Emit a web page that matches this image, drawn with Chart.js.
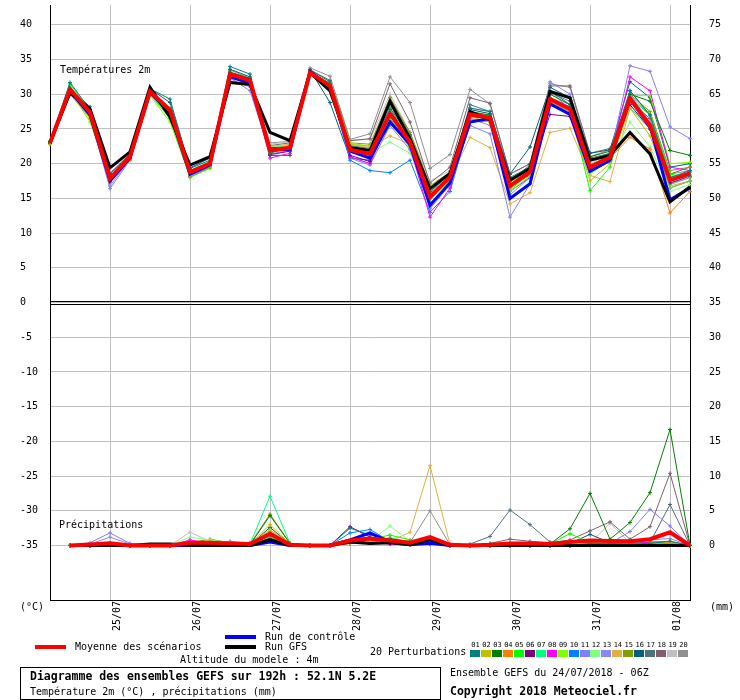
<!DOCTYPE html>
<html>
<head>
<meta charset="utf-8">
<script src="https://cdn.jsdelivr.net/npm/chart.js@4.4.1/dist/chart.umd.min.js"></script>
<style>
body { margin: 0; background: #fff; }
#wrap { position: relative; width: 740px; height: 700px; font-family: "DejaVu Sans Mono", monospace; font-size: 10px; color: #000; }
#wrap canvas { position: absolute; left: 0; top: 0; }
.t { position: absolute; white-space: pre; line-height: 12px; }
.b { font-weight: bold; font-size: 11.5px; }
.ln { position: absolute; width: 31px; height: 4px; }
.sw { position: absolute; top: 650px; width: 10px; height: 7px; }
.num { position: absolute; top: 641px; width: 11px; text-align: center; font-size: 7px; line-height: 8px; }
#box { position: absolute; left: 20px; top: 667px; width: 419px; height: 31px; border: 1px solid #000; }
</style>
</head>
<body>
<div id="wrap">
  <canvas id="gefs" width="740" height="640"></canvas>
  <div class="t" style="left:60px;top:64px">Températures 2m</div>
  <div class="t" style="left:59px;top:519px">Précipitations</div>
  <div class="t" style="left:20px;top:601px">(°C)</div>
  <div class="t" style="left:710px;top:601px">(mm)</div>

  <div class="ln" style="left:35px;top:645px;background:#ff0000"></div>
  <div class="t" style="left:75px;top:641px">Moyenne des scénarios</div>
  <div class="ln" style="left:225px;top:635px;background:#0000ff"></div>
  <div class="t" style="left:265px;top:631px">Run de contrôle</div>
  <div class="ln" style="left:225px;top:645px;background:#000"></div>
  <div class="t" style="left:265px;top:641px">Run GFS</div>
  <div class="t" style="left:180px;top:654px">Altitude du modele : 4m</div>
  <div class="t" style="left:370px;top:646px">20 Perturbations</div>
  <div id="swatches"></div>

  <div id="box"></div>
  <div class="t b" style="left:30px;top:670px">Diagramme des ensembles GEFS sur 192h : 52.1N 5.2E</div>
  <div class="t" style="left:30px;top:686px">Température 2m (°C) , précipitations (mm)</div>
  <div class="t" style="left:450px;top:667px">Ensemble GEFS du 24/07/2018 - 06Z</div>
  <div class="t b" style="left:450px;top:685px">Copyright 2018 Meteociel.fr</div>
</div>
<script>
// run 24/07/2018 06Z, 6-hourly steps up to 192h
var times = ['24/07 06Z','24/07 12Z','24/07 18Z','25/07 00Z','25/07 06Z','25/07 12Z','25/07 18Z',
  '26/07 00Z','26/07 06Z','26/07 12Z','26/07 18Z','27/07 00Z','27/07 06Z','27/07 12Z','27/07 18Z',
  '28/07 00Z','28/07 06Z','28/07 12Z','28/07 18Z','29/07 00Z','29/07 06Z','29/07 12Z','29/07 18Z',
  '30/07 00Z','30/07 06Z','30/07 12Z','30/07 18Z','31/07 00Z','31/07 06Z','31/07 12Z','31/07 18Z',
  '01/08 00Z','01/08 06Z'];
var tempTicks = [40, 35, 30, 25, 20, 15, 10, 5, 0, -5, -10, -15, -20, -25, -30, -35];
var precipTicks = [75, 70, 65, 60, 55, 50, 45, 40, 35, 30, 25, 20, 15, 10, 5, 0];

// temperature 2m (°C)
var tempMean = [23.0, 30.7, 27.4, 17.9, 21.0, 30.4, 27.7, 18.8, 20.0, 32.9, 32.0, 21.9, 22.3, 33.1, 31.2, 22.0, 21.4, 27.2, 23.1, 15.2, 18.1, 27.1, 26.6, 16.8, 18.8, 29.3, 27.9, 19.5, 20.9, 29.4, 25.5, 17.6, 18.6];
var tempGfs = [23.0, 30.2, 27.9, 19.4, 21.7, 31.0, 26.7, 19.8, 21.0, 31.7, 31.4, 24.5, 23.3, 33.1, 30.5, 22.3, 21.9, 29.0, 23.6, 16.4, 18.6, 27.5, 26.3, 17.6, 19.3, 30.4, 29.5, 20.5, 21.2, 24.5, 21.4, 14.5, 16.7];
var tempControl = [23.0, 30.5, 27.0, 17.5, 20.8, 30.3, 27.3, 18.5, 19.8, 32.5, 31.6, 22.1, 22.0, 33.3, 31.0, 21.8, 20.8, 26.0, 22.8, 14.0, 17.2, 26.0, 26.5, 15.0, 17.1, 28.6, 27.1, 18.9, 20.5, 29.5, 25.5, 14.8, 16.5];
var tempPert = [
  [23.2, 31.7, 27.8, 18.5, 21.3, 30.8, 29.3, 19.3, 20.5, 34.0, 32.9, 21.5, 22.5, 33.5, 31.8, 22.5, 22.0, 28.0, 24.0, 16.0, 18.5, 28.0, 27.5, 18.0, 19.5, 30.5, 28.5, 20.5, 21.5, 30.5, 27.0, 18.0, 19.0],
  [22.8, 30.0, 26.5, 17.6, 20.9, 30.2, 27.5, 18.6, 19.8, 32.5, 31.8, 22.0, 22.6, 33.0, 31.3, 22.8, 22.5, 28.5, 23.0, 16.5, 17.8, 26.8, 26.0, 16.0, 18.2, 29.0, 27.0, 17.5, 20.0, 28.0, 24.0, 16.5, 17.5],
  [23.0, 30.8, 27.2, 17.8, 21.1, 30.5, 27.9, 18.9, 20.2, 33.2, 32.3, 22.3, 22.4, 33.2, 31.5, 22.3, 22.0, 27.0, 22.8, 15.5, 18.0, 27.5, 27.0, 17.5, 19.8, 30.0, 28.5, 21.0, 21.8, 30.0, 29.0, 21.9, 21.2],
  [23.1, 30.4, 27.0, 17.3, 20.6, 30.0, 27.2, 18.3, 19.6, 32.6, 31.7, 22.2, 22.0, 33.4, 31.0, 21.8, 21.2, 29.0, 23.5, 15.8, 17.5, 26.5, 26.0, 16.5, 18.5, 29.0, 27.5, 19.0, 20.8, 23.8, 22.1, 12.9, 16.0],
  [23.3, 31.5, 27.6, 18.2, 21.2, 30.0, 26.5, 18.0, 19.4, 32.8, 31.5, 21.6, 22.6, 33.0, 31.4, 22.6, 21.0, 26.5, 22.5, 14.8, 17.5, 27.0, 26.8, 16.2, 18.6, 29.5, 28.0, 16.1, 19.5, 29.5, 27.0, 18.5, 18.0],
  [22.9, 30.6, 27.3, 17.5, 20.8, 30.3, 27.6, 18.7, 19.9, 32.6, 31.6, 21.3, 21.8, 33.1, 31.0, 21.2, 20.3, 26.2, 22.6, 14.2, 17.3, 26.8, 26.5, 16.6, 18.4, 27.1, 26.8, 19.2, 20.4, 28.5, 25.0, 17.2, 18.2],
  [23.0, 31.2, 27.5, 18.0, 21.0, 30.6, 28.0, 19.0, 20.1, 33.0, 32.1, 22.0, 22.2, 33.2, 31.3, 22.4, 21.6, 27.5, 23.2, 15.0, 18.2, 27.2, 26.7, 17.0, 19.0, 29.3, 28.0, 19.8, 21.0, 28.0, 25.0, 17.0, 18.4],
  [23.0, 30.6, 27.2, 17.8, 20.7, 30.4, 27.5, 18.2, 19.5, 32.8, 31.8, 20.8, 21.5, 33.0, 31.2, 21.0, 20.0, 26.5, 22.5, 12.3, 16.5, 26.8, 26.5, 16.6, 18.5, 29.5, 28.0, 19.0, 20.8, 32.5, 30.5, 19.5, 19.0],
  [23.2, 30.5, 26.0, 17.7, 20.5, 29.8, 26.0, 18.1, 19.3, 32.4, 31.7, 21.8, 22.5, 33.0, 31.6, 23.0, 22.5, 28.8, 23.8, 16.8, 18.4, 27.0, 26.8, 17.4, 18.8, 29.0, 27.5, 18.5, 20.5, 29.8, 29.8, 20.0, 20.2],
  [23.1, 30.7, 27.5, 17.4, 20.9, 30.5, 27.6, 18.6, 19.7, 32.7, 31.8, 22.0, 22.0, 33.3, 31.0, 20.5, 19.0, 18.7, 20.5, 13.0, 16.0, 26.0, 26.2, 16.0, 18.0, 28.8, 27.5, 18.8, 20.3, 29.0, 25.0, 16.5, 17.5],
  [22.8, 30.2, 26.8, 16.4, 20.5, 30.0, 27.3, 18.3, 19.6, 32.4, 30.5, 21.6, 22.1, 33.0, 30.8, 20.8, 19.8, 25.5, 22.0, 13.5, 17.0, 25.5, 24.3, 12.3, 17.1, 31.8, 30.0, 20.5, 21.0, 34.1, 33.3, 25.3, 23.6],
  [23.0, 30.9, 27.0, 17.6, 20.8, 30.1, 27.0, 18.4, 19.5, 32.8, 31.5, 22.4, 22.6, 33.2, 31.4, 22.4, 21.5, 23.1, 21.5, 15.5, 18.0, 27.2, 26.5, 17.5, 19.0, 29.0, 27.0, 19.5, 20.5, 26.0, 22.4, 16.0, 17.0],
  [22.9, 30.1, 27.0, 16.8, 20.6, 30.2, 27.4, 18.5, 19.7, 32.6, 31.2, 21.4, 21.9, 33.1, 30.9, 21.0, 20.0, 26.5, 22.2, 13.8, 17.5, 26.5, 25.5, 15.5, 18.0, 30.5, 27.8, 19.0, 20.4, 30.0, 26.0, 17.0, 18.0],
  [23.0, 30.3, 26.5, 17.8, 20.9, 30.4, 27.6, 18.8, 19.9, 32.5, 31.5, 22.5, 22.8, 33.0, 31.2, 22.8, 22.3, 24.0, 22.8, 16.0, 17.8, 23.8, 22.3, 14.2, 15.8, 24.5, 25.1, 18.3, 17.4, 28.0, 25.5, 16.8, 17.5],
  [23.0, 31.0, 27.7, 18.2, 21.1, 30.6, 27.9, 19.0, 20.3, 33.1, 32.2, 22.5, 22.5, 33.2, 31.6, 23.0, 22.8, 29.5, 24.5, 16.8, 18.8, 27.5, 26.8, 17.8, 19.3, 29.5, 28.2, 19.8, 21.2, 30.0, 27.5, 19.0, 19.5],
  [23.1, 30.8, 28.2, 18.6, 21.4, 30.8, 28.8, 19.4, 20.8, 33.6, 32.5, 21.2, 21.2, 33.5, 28.8, 20.8, 20.5, 27.8, 23.5, 15.8, 18.8, 27.8, 27.2, 18.5, 22.4, 31.0, 29.5, 21.5, 22.0, 31.8, 29.5, 19.5, 20.0],
  [23.0, 30.5, 27.3, 17.9, 21.0, 30.3, 27.6, 18.8, 20.1, 33.0, 32.0, 22.2, 22.6, 33.3, 31.5, 22.6, 22.2, 29.5, 24.2, 16.5, 18.3, 28.5, 27.5, 17.8, 19.5, 30.2, 29.0, 20.8, 21.5, 30.5, 27.0, 18.0, 18.8],
  [23.0, 30.4, 27.1, 17.6, 20.8, 30.2, 27.4, 18.6, 19.9, 32.7, 31.8, 22.6, 23.0, 33.5, 32.0, 23.3, 23.6, 31.5, 26.0, 17.2, 19.5, 29.5, 28.7, 18.5, 20.0, 31.2, 31.2, 21.5, 22.2, 29.0, 26.5, 18.5, 19.5],
  [22.9, 30.0, 26.8, 17.2, 20.5, 29.9, 27.0, 18.3, 19.6, 32.2, 31.0, 22.8, 23.2, 33.6, 31.8, 23.4, 23.5, 30.0, 24.5, 17.5, 19.0, 28.0, 27.5, 17.5, 19.0, 29.5, 28.5, 20.0, 21.5, 29.0, 25.0, 17.0, 18.0],
  [23.0, 30.3, 27.0, 17.8, 21.0, 30.2, 27.2, 18.5, 19.9, 33.5, 32.3, 23.0, 23.2, 33.8, 32.6, 23.5, 24.3, 32.5, 28.8, 19.3, 21.3, 30.7, 28.6, 18.5, 20.0, 31.5, 31.0, 21.0, 22.0, 30.0, 27.0, 18.5, 19.0]
];

// precipitation (mm), no value at the first step
var precipMean = [null, 0, 0.15, 0.3, 0, 0, 0, 0.4, 0.4, 0.3, 0.2, 1.7, 0.1, 0, 0, 0.7, 1.0, 0.7, 0.4, 1.2, 0.1, 0, 0.1, 0.3, 0.3, 0.2, 0.5, 0.7, 0.65, 0.6, 0.9, 1.9, 0];
var precipGfs = [null, 0, 0, 0, 0, 0.2, 0.2, 0, 0, 0, 0, 0.8, 0, 0, 0, 0.5, 0.3, 0.4, 0.1, 0.8, 0, 0, 0, 0, 0, 0, 0, 0, 0, 0, 0, 0, 0];
var precipControl = [null, 0, 0, 0.1, 0, 0, 0, 0, 0, 0, 0, 0.5, 0, 0, 0, 0.8, 1.8, 0.5, 0.1, 0.3, 0, 0, 0, 0, 0, 0, 0, 0, 0, 0, 0, 0, 0];
var precipPert = [
  [null, 0, 0, 0.2, 0, 0, 0, 0.2, 0.3, 0.2, 0.1, 1.5, 0.1, 0, 0, 2.5, 1.5, 0.8, 0.3, 0.6, 0, 0, 0, 0, 0, 0, 0, 0.3, 0.3, 0.2, 0.3, 0.6, 0],
  [null, 0, 0.1, 0.3, 0, 0, 0, 0.3, 0.6, 0.3, 0.2, 3.0, 0.2, 0, 0, 0.3, 0.6, 0.5, 0.4, 0.8, 0, 0, 0, 0, 0, 0, 0, 0, 0.2, 0.1, 0.3, 0.5, 0],
  [null, 0, 0, 0.2, 0, 0, 0, 0.2, 0.3, 0.2, 0.1, 4.3, 0.3, 0, 0, 0.5, 0.6, 1.0, 0.5, 0.5, 0, 0, 0.2, 0.3, 0.3, 0.2, 2.4, 7.5, 0.9, 3.3, 7.6, 16.7, 0],
  [null, 0, 0.1, 0.4, 0, 0, 0, 0.3, 0.5, 0.3, 0.2, 2.0, 0.2, 0, 0, 0.4, 0.8, 0.5, 0.3, 0.6, 0, 0, 0, 0, 0, 0, 0, 0.2, 0.2, 0.1, 0.2, 0.4, 0],
  [null, 0, 0, 0.2, 0, 0, 0, 0.3, 0.4, 0.4, 0.3, 1.2, 0.1, 0, 0, 0.4, 0.9, 1.5, 0.8, 0.4, 0, 0, 0, 0.1, 0.2, 0.2, 1.7, 0.4, 0.3, 0.2, 0.3, 0.3, 0],
  [null, 0, 0, 0.1, 0, 0, 0, 0.2, 0.2, 0.2, 0.1, 1.0, 0.1, 0, 0, 2.7, 1.2, 0.3, 0.2, 0.3, 0, 0, 0, 0, 0, 0, 0, 0.1, 0.1, 0.1, 0.2, 0.3, 0],
  [null, 0, 0.1, 0.3, 0, 0, 0, 0.4, 0.4, 0.3, 0.2, 7.1, 0.3, 0, 0, 0.5, 0.7, 0.6, 0.4, 0.6, 0, 0, 0, 0, 0, 0, 0, 0.2, 0.2, 0.1, 0.2, 0.4, 0],
  [null, 0, 0, 0.2, 0, 0, 0, 0.8, 0.3, 0.2, 0.1, 0.8, 0.1, 0, 0, 0.3, 0.6, 0.2, 0.1, 0.3, 0, 0, 0, 0, 0, 0, 0, 0.2, 0.2, 0.1, 0.5, 0.6, 0],
  [null, 0, 0.1, 0.3, 0, 0, 0, 0.5, 0.6, 0.4, 0.2, 2.2, 0.2, 0, 0, 0.4, 0.8, 0.9, 0.6, 0.5, 0, 0, 0, 0, 0, 0, 0.2, 0.3, 0.3, 0.1, 0.3, 0.5, 0],
  [null, 0, 0, 0.2, 0, 0, 0, 0.1, 0.2, 0.2, 0.1, 1.8, 0.1, 0, 0, 1.8, 2.3, 0.6, 0.2, 0.2, 0, 0, 0, 0, 0, 0, 0, 0.1, 0.1, 0.1, 0.2, 0.3, 0],
  [null, 0, 0.4, 1.8, 0.3, 0, 0, 0.3, 0.3, 0.6, 0.3, 1.4, 0.1, 0, 0, 0.3, 0.5, 0.4, 0.2, 0.3, 0, 0, 0, 0, 0, 0, 0.1, 0.2, 0.3, 2.0, 5.2, 2.8, 0],
  [null, 0, 0.1, 0.4, 0, 0, 0, 1.2, 0.8, 0.4, 0.2, 1.6, 0.2, 0, 0, 0.4, 0.6, 2.8, 0.6, 0.5, 0, 0, 0, 0, 0, 0, 0, 0.2, 0.2, 0.1, 0.2, 0.4, 0],
  [null, 0, 0.2, 1.2, 0.2, 0, 0, 0.2, 0.3, 0.3, 0.4, 1.5, 0.2, 0, 0, 0.4, 0.6, 0.5, 0.3, 0.4, 0, 0, 0, 0, 0, 0, 0, 0.2, 0.2, 0.3, 0.8, 1.0, 0],
  [null, 0, 0.1, 0.2, 0, 0, 0, 0.3, 0.4, 0.3, 0.2, 2.3, 0.2, 0, 0, 0.3, 0.5, 0.6, 1.9, 11.5, 0.1, 0, 0, 0, 0, 0, 0, 0.1, 0.1, 0.1, 0.2, 0.3, 0],
  [null, 0, 0.1, 0.3, 0, 0, 0, 0.4, 0.9, 0.4, 0.2, 4.5, 0.3, 0, 0, 0.4, 0.7, 0.8, 0.5, 0.5, 0, 0, 0, 0, 0, 0, 0, 0.2, 0.2, 0.1, 0.2, 0.3, 0],
  [null, 0, 0, 0.2, 0, 0, 0, 0.2, 0.3, 0.2, 0.1, 2.6, 0.2, 0, 0, 0.6, 0.9, 0.5, 0.3, 0.4, 0, 0, 0, 0, 0.1, 0.1, 0.3, 1.6, 0.4, 0.3, 0.4, 0.5, 0],
  [null, 0, 0, 0.1, 0, 0, 0, 0.2, 0.2, 0.2, 0.1, 1.0, 0.1, 0, 0, 0.3, 0.4, 0.3, 0.2, 0.6, 0.1, 0.2, 1.3, 5.1, 3.0, 0.5, 0.4, 0.4, 0.3, 0.3, 0.4, 5.9, 0],
  [null, 0, 0, 0.1, 0, 0, 0, 0.2, 0.2, 0.2, 0.1, 1.1, 0.1, 0, 0, 0.3, 0.5, 0.3, 0.2, 0.4, 0, 0, 0.3, 0.9, 0.6, 0.4, 0.8, 2.1, 3.4, 0.9, 2.7, 10.4, 0],
  [null, 0, 0.1, 0.3, 0, 0, 0, 1.9, 0.6, 0.3, 0.2, 1.3, 0.2, 0, 0, 0.3, 0.5, 1.2, 0.4, 0.5, 0, 0, 0, 0, 0, 0, 0, 0.3, 3.2, 0.4, 0.3, 0.4, 0],
  [null, 0, 0, 0.1, 0, 0, 0, 0.2, 0.3, 0.2, 0.1, 1.3, 0.1, 0, 0, 0.3, 0.6, 0.5, 0.4, 5.0, 0.1, 0, 0, 0, 0, 0, 0, 0.2, 0.4, 0.2, 0.3, 0.5, 0]
];

var pertColors = ['#008080', '#c0c000', '#008000', '#ff8000', '#00ff00', '#800080', '#00ff80', '#ff00ff', '#80ff00', '#0080ff',
  '#8080ff', '#80ff80', '#8888f0', '#e0b040', '#80a000', '#006080', '#507080', '#806070', '#c0c0c0', '#909090'];

// perturbation colour key under the chart
var sw = document.getElementById('swatches');
pertColors.forEach(function (c, i) {
  var x = 470 + i * 10.95;
  var n = document.createElement('div');
  n.className = 'num';
  n.style.left = x + 'px';
  n.textContent = (i < 9 ? '0' : '') + (i + 1);
  sw.appendChild(n);
  var s = document.createElement('div');
  s.className = 'sw';
  s.style.left = x + 'px';
  s.style.background = c;
  sw.appendChild(s);
});

var datasets = [];
function addSet(data, axis, color, width, order, marks) {
  datasets.push({
    data: data,
    yAxisID: axis,
    borderColor: color,
    backgroundColor: color,
    borderWidth: width,
    pointStyle: 'cross',
    pointRadius: marks ? 2 : 0,
    pointBorderWidth: 1,
    pointBorderColor: color,
    tension: 0,
    fill: false,
    order: order
  });
}
addSet(tempMean, 'y', '#ff0000', 4, 0, false);
addSet(tempGfs, 'y', '#000000', 3, 1, false);
addSet(tempControl, 'y', '#0000ff', 3, 2, false);
tempPert.forEach(function (d, i) { addSet(d, 'y', pertColors[i], 1, 3 + i, true); });
addSet(precipMean, 'y2', '#ff0000', 4, 0, false);
addSet(precipGfs, 'y2', '#000000', 3, 1, false);
addSet(precipControl, 'y2', '#0000ff', 3, 2, false);
precipPert.forEach(function (d, i) { addSet(d, 'y2', pertColors[i], 1, 3 + i, true); });

var isMidnight = times.map(function (t) { return t.slice(6) === '00Z'; });
var monoFont = { family: 'DejaVu Sans Mono', size: 10 };

// double line separating the two panels
var panelSplit = {
  id: 'panelSplit',
  beforeDatasetsDraw: function (chart) {
    var c = chart.ctx, a = chart.chartArea;
    var y = Math.round(chart.scales.y.getPixelForValue(0));
    c.save();
    c.strokeStyle = '#000';
    c.lineWidth = 1;
    c.beginPath();
    c.moveTo(a.left, y - 1.5); c.lineTo(a.right, y - 1.5);
    c.moveTo(a.left, y + 1.5); c.lineTo(a.right, y + 1.5);
    c.stroke();
    c.restore();
  }
};

function noPad(scale) {
  scale.paddingTop = 0; scale.paddingBottom = 0;
  scale.paddingLeft = 0; scale.paddingRight = 0;
}

new Chart(document.getElementById('gefs'), {
  type: 'line',
  data: { labels: times, datasets: datasets },
  options: {
    responsive: false,
    animation: false,
    spanGaps: false,
    layout: { padding: { left: 20, right: 0, top: 0, bottom: 0 } },
    plugins: { legend: { display: false }, tooltip: { enabled: false } },
    scales: {
      x: {
        offset: false,
        grid: {
          color: function (ctx) { return isMidnight[ctx.index] ? '#c0c0c0' : 'rgba(0,0,0,0)'; },
          drawTicks: false
        },
        border: { color: '#000', width: 1 },
        ticks: {
          autoSkip: false,
          minRotation: 90,
          maxRotation: 90,
          padding: 1,
          labelOffset: 7,
          color: '#000',
          font: monoFont,
          callback: function (v, i) { return isMidnight[i] ? times[i].slice(0, 5) : ''; }
        },
        afterFit: function (s) { s.height = 40; noPad(s); }
      },
      y: {
        position: 'left',
        min: -300 / 7,
        max: 300 / 7,
        grid: { color: '#c0c0c0', drawTicks: false },
        border: { color: '#000', width: 1 },
        ticks: { crossAlign: 'far', padding: 0, color: '#000', font: monoFont },
        afterBuildTicks: function (s) { s.ticks = tempTicks.map(function (v) { return { value: v }; }); },
        afterFit: function (s) { s.width = 30; noPad(s); }
      },
      y2: {
        position: 'right',
        min: -300 / 7 + 35,
        max: 300 / 7 + 35,
        grid: { display: false, drawTicks: false },
        border: { display: true, color: '#000', width: 1 },
        ticks: { crossAlign: 'near', padding: 19, color: '#000', font: monoFont },
        afterBuildTicks: function (s) { s.ticks = precipTicks.map(function (v) { return { value: v }; }); },
        afterFit: function (s) { s.width = 50; noPad(s); }
      }
    }
  },
  plugins: [panelSplit]
});
</script>
</body>
</html>
